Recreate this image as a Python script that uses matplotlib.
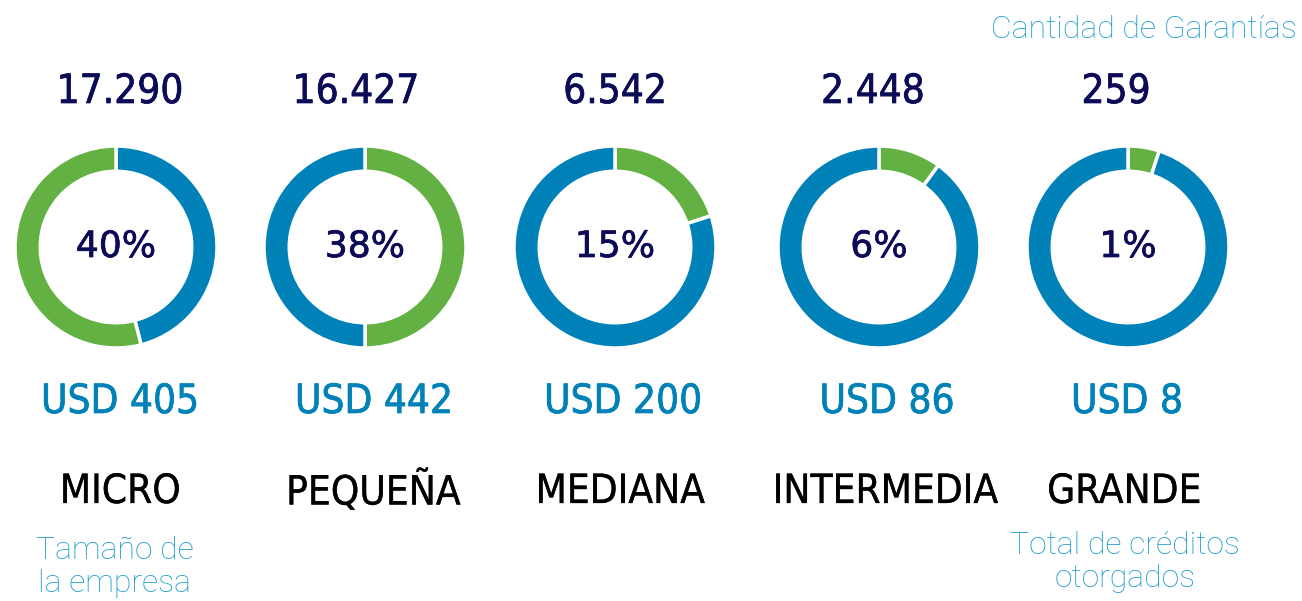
import matplotlib.pyplot as plt
import matplotlib.patheffects as pe

# data
categorias = ["MICRO", "PEQUEÑA", "MEDIANA", "INTERMEDIA", "GRANDE"]
cantidad = ["17.290", "16.427", "6.542", "2.448", "259"]
porcentaje = ["40%", "38%", "15%", "6%", "1%"]
creditos = ["USD 405", "USD 442", "USD 200", "USD 86", "USD 8"]
# share of the ring drawn green, measured clockwise from the top
verde = [0.54, 0.50, 0.20, 0.10, 0.05]
verde_primero = [False, True, True, True, True]

AZUL = "#0082b9"
VERDE = "#63b143"
NAVY = "#0b0b58"
CELESTE = "#1a9ccc"

W, H = 1302, 601
fig = plt.figure(figsize=(W / 100, H / 100), dpi=100)
ax = fig.add_axes([0, 0, 1, 1])

cx = [116, 365, 615, 879, 1128]
cy = H - 247
r = 101
count_x = [120, 356, 615, 873, 1116]
usd_x = [120, 374, 623, 887, 1127]
cat_x = [120, 373, 620, 885, 1124]

def heavy(color, lw=0.5):
	# thicken the regular face a little, the original uses a medium weight
	return [pe.withStroke(linewidth=lw, foreground=color)]

def narrow(x, y, s, size, color, lw=0.5):
	ax.text(x, y, s, ha="center", va="center", fontsize=size, color=color,
		family="DejaVu Sans", fontstretch="condensed", path_effects=heavy(color, lw))

for i in range(len(categorias)):
	g = verde[i]
	if verde_primero[i]:
		vals, cols = [g, 1 - g], [VERDE, AZUL]
	else:
		vals, cols = [1 - g, g], [AZUL, VERDE]
	ax.pie(vals, colors=cols, startangle=90, counterclock=False,
		center=(cx[i], cy), radius=r, frame=True,
		wedgeprops=dict(width=r * 0.25, edgecolor="white", linewidth=2.5))
	ax.text(cx[i], cy, porcentaje[i], ha="center", va="center",
		fontsize=26, color=NAVY, family="DejaVu Sans", path_effects=heavy(NAVY))
	narrow(count_x[i], H - 92, cantidad[i], 29, NAVY)
	narrow(usd_x[i], H - 402, creditos[i], 29, AZUL)
	narrow(cat_x[i], H - 492, categorias[i], 29, "black", lw=0.2)

light = dict(fontsize=23, color=CELESTE, family=["Roboto", "DejaVu Sans"],
	fontweight="light", linespacing=1.15)
ax.text(1297, H - 30, "Cantidad de Garantías", ha="right", va="center", **light)
ax.text(115, H - 567, "Tamaño de\nla empresa", ha="center", va="center", **light)
ax.text(1125, H - 562, "Total de créditos\notorgados", ha="center", va="center", **light)

ax.set_xlim(0, W)
ax.set_ylim(0, H)
ax.set_axis_off()
fig.savefig("out.png", dpi=100)
